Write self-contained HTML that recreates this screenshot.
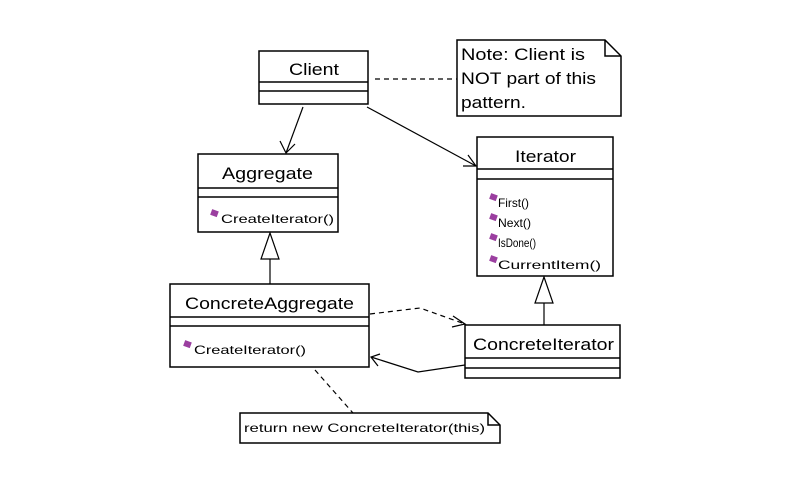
<!DOCTYPE html>
<html><head><style>html,body{margin:0;padding:0;background:#fff;}svg{display:block}</style></head>
<body>
<svg width="800" height="500" xmlns="http://www.w3.org/2000/svg" font-family="Liberation Sans, sans-serif">
<rect width="800" height="500" fill="#fff"/>
<g fill="#fff" stroke="#000" stroke-width="1.5">
<rect x="259" y="51" width="109" height="53"/>
<line x1="259" y1="82" x2="368" y2="82"/><line x1="259" y1="91" x2="368" y2="91"/>
<path d="M457 40 H605 L621 56 V116 H457 Z"/>
<path d="M605 40 V56 H621" fill="none"/>
<rect x="198" y="154" width="140" height="78"/>
<line x1="198" y1="188" x2="338" y2="188"/><line x1="198" y1="197" x2="338" y2="197"/>
<rect x="477" y="137" width="136" height="139"/>
<line x1="477" y1="169" x2="613" y2="169"/><line x1="477" y1="179" x2="613" y2="179"/>
<rect x="170" y="284" width="199" height="83"/>
<line x1="170" y1="317" x2="369" y2="317"/><line x1="170" y1="326" x2="369" y2="326"/>
<rect x="465" y="325" width="155" height="53"/>
<line x1="465" y1="358" x2="620" y2="358"/><line x1="465" y1="368" x2="620" y2="368"/>
<path d="M240 413 H488 L500 425 V443 H240 Z"/>
<path d="M488 413 V425 H500" fill="none"/>
</g>
<g stroke="#000" stroke-width="1.2" fill="none">
<line x1="375" y1="79" x2="457" y2="79" stroke-dasharray="5,4"/>
<line x1="303" y1="107" x2="286" y2="153"/>
<path d="M280 141 L286 153 L295 144"/>
<line x1="367" y1="107" x2="476" y2="166"/>
<path d="M463 166 L476 166 L468 155"/>
<line x1="270" y1="259" x2="270" y2="284"/>
<path d="M270 233 L261 259 H279 Z" fill="#fff"/>
<line x1="544" y1="303" x2="544" y2="325"/>
<path d="M544 277 L535 303 H553 Z" fill="#fff"/>
<path d="M370 314 L420 308 L465 324" stroke-dasharray="5,4"/>
<path d="M453 316 L465 324 L452 327"/>
<path d="M465 365 L418 372 L371 357"/>
<path d="M380 354 L371 357 L378 366"/>
<line x1="315" y1="370" x2="353" y2="413" stroke-dasharray="5,4"/>
</g>
<g font-size="17" fill="#000" lengthAdjust="spacingAndGlyphs">
<text x="289" y="75" textLength="50" lengthAdjust="spacingAndGlyphs">Client</text>
<text x="222" y="179" textLength="91" lengthAdjust="spacingAndGlyphs">Aggregate</text>
<text x="515" y="162" textLength="61" lengthAdjust="spacingAndGlyphs">Iterator</text>
<text x="185" y="309" textLength="169" lengthAdjust="spacingAndGlyphs">ConcreteAggregate</text>
<text x="473" y="350" textLength="141" lengthAdjust="spacingAndGlyphs">ConcreteIterator</text>
<text x="461" y="60" textLength="124" lengthAdjust="spacingAndGlyphs">Note: Client is</text>
<text x="461" y="84" textLength="135" lengthAdjust="spacingAndGlyphs">NOT part of this</text>
<text x="461" y="108" textLength="65" lengthAdjust="spacingAndGlyphs">pattern.</text>
</g>
<g font-size="12" fill="#000">
<text x="221" y="223" textLength="113" lengthAdjust="spacingAndGlyphs">CreateIterator()</text>
<text x="498" y="207" textLength="31" lengthAdjust="spacingAndGlyphs">First()</text>
<text x="498" y="227" textLength="33" lengthAdjust="spacingAndGlyphs">Next()</text>
<text x="498" y="247" textLength="38" lengthAdjust="spacingAndGlyphs">IsDone()</text>
<text x="498" y="269" textLength="103" lengthAdjust="spacingAndGlyphs">CurrentItem()</text>
<text x="194" y="354" textLength="112" lengthAdjust="spacingAndGlyphs">CreateIterator()</text>
<text x="244" y="432" textLength="241" lengthAdjust="spacingAndGlyphs">return new ConcreteIterator(this)</text>
</g>
<g fill="#9b3fa0">
<rect x="211" y="210" width="7" height="6" transform="rotate(20 214 213)"/>
<rect x="490" y="194" width="7" height="6" transform="rotate(20 493 197)"/>
<rect x="490" y="214" width="7" height="6" transform="rotate(20 493 217)"/>
<rect x="490" y="234" width="7" height="6" transform="rotate(20 493 237)"/>
<rect x="490" y="256" width="7" height="6" transform="rotate(20 493 259)"/>
<rect x="184" y="341" width="7" height="6" transform="rotate(20 187 344)"/>
</g>
</svg>
</body></html>
